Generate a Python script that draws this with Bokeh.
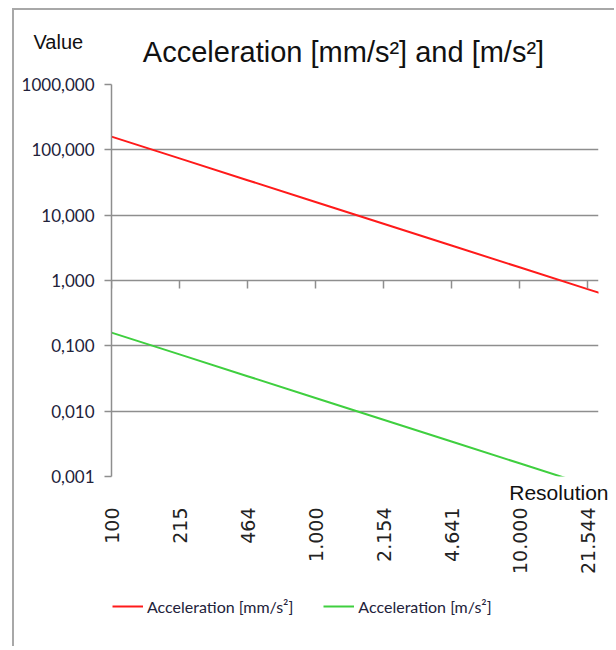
import math
from bokeh.plotting import figure
from bokeh.layouts import column
from bokeh.models import (FixedTicker, LogAxis, Label, Legend, LegendItem, Range1d,
                          ColumnDataSource, Title)
from bokeh.core.properties import value
from bokeh.embed import file_html
from bokeh.resources import INLINE

# ---- data ----
resolution = [100, 215.44, 464.16, 1000, 2154.4, 4641.6, 10000, 21544, 25119]
accel_mm_s2 = [159.2, 73.9, 34.3, 15.92, 7.39, 3.43, 1.592, 0.739, 0.634]
accel_m_s2 = [0.1592, 0.0739, 0.0343, 0.01592, 0.00739, 0.00343, 0.001592, 0.000739, 0.000634]

x_ticks = [100, 215.44, 464.16, 1000, 2154.4, 4641.6, 10000, 21544]
x_labels = ["100", "215", "464", "1.000", "2.154", "4.641", "10.000", "21.544"]
y_ticks = [0.001, 0.01, 0.1, 1, 10, 100, 1000]
y_labels = ["0,001", "0,010", "0,100", "1,000", "10,000", "100,000", "1000,000"]

title_text = "Acceleration [mm/s²] and [m/s²]"
y_title = "Value"
x_title = "Resolution"
series_names = ["Acceleration [mm/s²]", "Acceleration [m/s²]"]
series_colors = ["#ff1a1a", "#3fcf3f"]

GRID = "#8e8e8e"
ARIAL = "Liberation Sans"
W = 600

src = ColumnDataSource(dict(res=resolution, mm=accel_mm_s2, m=accel_m_s2))

# ---- header (title + "Value") ----
header = figure(width=W, height=60, x_range=Range1d(0, W), y_range=Range1d(60, 0),
                output_backend="svg", toolbar_location=None, min_border=0,
                x_axis_location=None, y_axis_location=None)
header.frame_align = False
header.outline_line_color = None
header.grid.visible = False
header.add_layout(Label(x=19, y=31, text=y_title, text_font=ARIAL, text_font_size="20px",
                        text_baseline="alphabetic", text_color="#111111"))
header.add_layout(Label(x=329, y=41, text=title_text, text_font=ARIAL,
                        text_font_size="29px", text_baseline="alphabetic",
                        text_align="center", text_color="#111111"))

# ---- main chart ----
p = figure(width=W, height=516, x_axis_type="log", y_axis_type="log",
           x_range=Range1d(100, 24380), y_range=Range1d(0.001, 1000),
           output_backend="svg", toolbar_location=None,
           min_border_left=97, min_border_right=16,
           min_border_top=14, min_border_bottom=110)
p.frame_align = False
p.outline_line_color = None

# y axis
yt = FixedTicker(ticks=y_ticks, minor_ticks=[])
p.yaxis.ticker = yt
p.ygrid.ticker = yt
p.yaxis.major_label_overrides = dict(zip(y_ticks, y_labels))
p.yaxis.axis_line_color = GRID
p.yaxis.axis_line_width = 1.5
p.yaxis.major_tick_line_color = GRID
p.yaxis.major_tick_line_width = 1.5
p.yaxis.major_tick_out = 7
p.yaxis.major_tick_in = 0
p.yaxis.minor_tick_line_color = None
p.yaxis.major_label_standoff = 10
p.yaxis.major_label_text_font = "Lato"
p.yaxis.major_label_text_font_size = "17px"
p.yaxis.major_label_text_color = "#22223a"
p.ygrid.grid_line_color = GRID
p.ygrid.grid_line_width = 1.6
p.xgrid.visible = False

# x axis (labels at the bottom)
xt = FixedTicker(ticks=x_ticks, minor_ticks=[])
xaxis = p.xaxis[0]
xaxis.ticker = xt
xaxis.major_label_overrides = dict(zip(x_ticks, x_labels))
xaxis.axis_line_color = None
xaxis.major_tick_line_color = None
xaxis.minor_tick_line_color = None
xaxis.major_tick_out = 0
xaxis.major_tick_in = 0
xaxis.major_label_orientation = math.pi / 2
xaxis.major_label_standoff = 2
xaxis.major_label_text_font = "DejaVu Sans"
xaxis.major_label_text_font_size = "19px"
xaxis.major_label_text_color = "#222222"

# x axis crossing at y = 1 (tick marks only)
cross_axis = LogAxis(fixed_location=1, ticker=FixedTicker(ticks=x_ticks, minor_ticks=[]),
                     axis_line_color=None, major_tick_line_color=GRID,
                     major_tick_line_width=1.5, major_tick_out=8, major_tick_in=0,
                     minor_tick_line_color=None, major_label_text_color=None,
                     major_label_text_font_size="1px", major_label_standoff=0)

# axis title "Resolution" directly under the plot area, right aligned
res_title = Title(text=x_title, align="right", offset=-10, text_font=ARIAL,
                  text_font_size="21px", text_font_style="normal",
                  text_color="#111111", standoff=4)
p.below = [res_title, xaxis, cross_axis]

# lines
r1 = p.line("res", "mm", source=src, line_color=series_colors[0], line_width=2)
r2 = p.line("res", "m", source=src, line_color=series_colors[1], line_width=2)

# ---- footer with the legend ----
footer = figure(width=W, height=60, x_range=Range1d(0, 1), y_range=Range1d(0, 1),
                output_backend="svg", toolbar_location=None, min_border=0,
                x_axis_location=None, y_axis_location=None)
footer.frame_align = False
footer.outline_line_color = None
footer.grid.visible = False
f1 = footer.line("res", "mm", source=src, line_color=series_colors[0], line_width=2)
f2 = footer.line("res", "m", source=src, line_color=series_colors[1], line_width=2)
legend = Legend(items=[LegendItem(label=value(series_names[0]), renderers=[f1]),
                       LegendItem(label=value(series_names[1]), renderers=[f2])],
                location=(98, 30), orientation="horizontal",
                glyph_width=31, glyph_height=20, label_height=20, label_standoff=4,
                spacing=30, padding=0, margin=0, border_line_color=None,
                background_fill_alpha=0,
                label_text_font="Lato", label_text_font_size="16px",
                label_text_color="#22223a")
footer.add_layout(legend)

layout = column(header, p, footer, spacing=0, margin=(8, 0, 0, 12),
                styles={"border-left": "2px solid #a8a8a8",
                        "border-top": "2px solid #a8a8a8"})

open("out.html", "w").write(file_html(layout, INLINE))
